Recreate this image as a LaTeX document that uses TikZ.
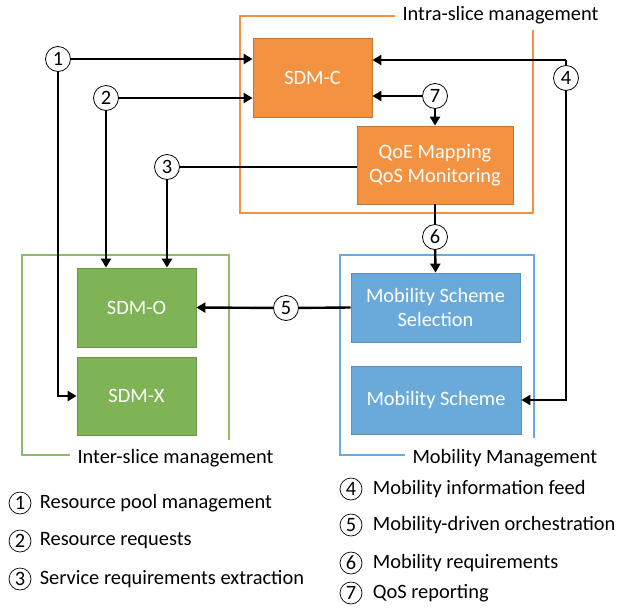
\documentclass[tikz,border=0pt]{standalone}
\usepackage{fontspec}
\setmainfont{Carlito}
\usetikzlibrary{arrows.meta}
\definecolor{sdmorange}{HTML}{F39240}
\definecolor{sdmgreen}{HTML}{7EB455}
\definecolor{sdmblue}{HTML}{6AAADB}
\begin{document}
\begin{tikzpicture}[x=1pt, y=-1pt, font=\fontsize{20.4}{24}\selectfont,
                    box/.style={draw, line width=0.8pt, text=white, align=center, inner sep=0pt},
                    obox/.style={box, fill=sdmorange, draw=sdmorange!80!black},
                    gbox/.style={box, fill=sdmgreen, draw=sdmgreen!85!black},
                    bbox/.style={box, fill=sdmblue, draw=sdmblue!85!black},
                    num/.style={circle, draw, fill=white, line width=0.8pt, minimum size=25pt, inner sep=0pt},
                    key/.style={circle, draw, line width=0.7pt, minimum size=22pt, inner sep=0pt},
                    flow/.style={line width=2.4pt},
                    arrow/.style={flow, -{Triangle[length=9pt,width=10pt]}}]
\useasboundingbox (0,0) rectangle (621,608);
% frames
\draw[sdmorange, line width=1.8pt] (395,16) -- (240,16) -- (240,213) -- (533,213) -- (533,30);
\node[anchor=west] (intra) at (399,15) {Intra-slice management};
\draw[sdmgreen!90!white, line width=1.8pt] (70,455) -- (22,455) -- (22,255) -- (229,255) -- (229,440);
\node[anchor=west] (inter) at (74,458) {Inter-slice management};
\draw[sdmblue, line width=1.8pt] (405,455) -- (340,455) -- (340,255) -- (534,255) -- (534,438);
\node[anchor=west] (mobman) at (409,458) {Mobility Management};
% blocks
\node[obox, minimum width=119pt, minimum height=79pt] (sdmc) at (312.5,77.5) {SDM-C};
\node[obox, minimum width=156pt, minimum height=78pt] (qoe) at (435,165) {QoE Mapping\\QoS Monitoring};
\node[gbox, minimum width=119pt, minimum height=79pt] (sdmo) at (136.5,307.5) {SDM-O};
\node[gbox, minimum width=119pt, minimum height=78pt] (sdmx) at (136.5,396) {SDM-X};
\node[bbox, minimum width=169pt, minimum height=69pt] (mss) at (435.5,307.5) {Mobility Scheme\\Selection};
\node[bbox, minimum width=170pt, minimum height=68pt] (ms) at (436,400) {Mobility Scheme};
% numbered flows
\node[num] (c1) at (58,59) {1};
\node[num] (c2) at (106,98) {2};
\node[num] (c3) at (167,167) {3};
\node[num] (c4) at (566,78) {4};
\node[num] (c5) at (286,308) {5};
\node[num] (c6) at (435,237) {6};
\node[num] (c7) at (435,96) {7};
\coordinate (turn4) at (566,60);
\draw[arrow] (c1) -- (c1 -| sdmc.west);
\draw[arrow] (c1) |- (sdmx.west);
\draw[arrow] (c2) -- (c2 -| sdmc.west);
\draw[arrow] (c2) -- (c2 |- sdmo.north);
\draw[flow] (c3) -- (c3 -| qoe.west);
\draw[arrow] (c3) -- (c3 |- sdmo.north);
\draw[flow] (c4) -- (turn4);
\draw[arrow] (turn4) -- (turn4 -| sdmc.east);
\draw[arrow] (c4) |- (ms.east);
\draw[flow] (mss.west) -- (c5);
\draw[arrow] (c5) -- (sdmo.east);
\draw[flow] (qoe.south) -- (c6);
\draw[arrow] (c6) -- (mss.north);
\draw[arrow] (c7) -- (c7 -| sdmc.east);
\draw[arrow] (c7) -- (qoe.north);
% legend
\node[key] (k1) at (20,503) {1};
\node[key] (k2) at (20,541) {2};
\node[key] (k3) at (20,579) {3};
\node[anchor=west, xshift=5pt] (t1) at (k1.east) {Resource pool management};
\node[anchor=west, xshift=5pt] (t2) at (k2.east) {Resource requests};
\node[anchor=west, xshift=5pt] (t3) at (k3.east) {Service requirements extraction};
\node[key] (k4) at (351,489) {4};
\node[key] (k5) at (351,525) {5};
\node[key] (k6) at (351,563) {6};
\node[key] (k7) at (351,593) {7};
\node[anchor=west, xshift=7pt] (t4) at (k4.east) {Mobility information feed};
\node[anchor=west, xshift=7pt] (t5) at (k5.east) {Mobility-driven orchestration};
\node[anchor=west, xshift=7pt] (t6) at (k6.east) {Mobility requirements};
\node[anchor=west, xshift=7pt] (t7) at (k7.east) {QoS reporting};
\end{tikzpicture}
\end{document}
